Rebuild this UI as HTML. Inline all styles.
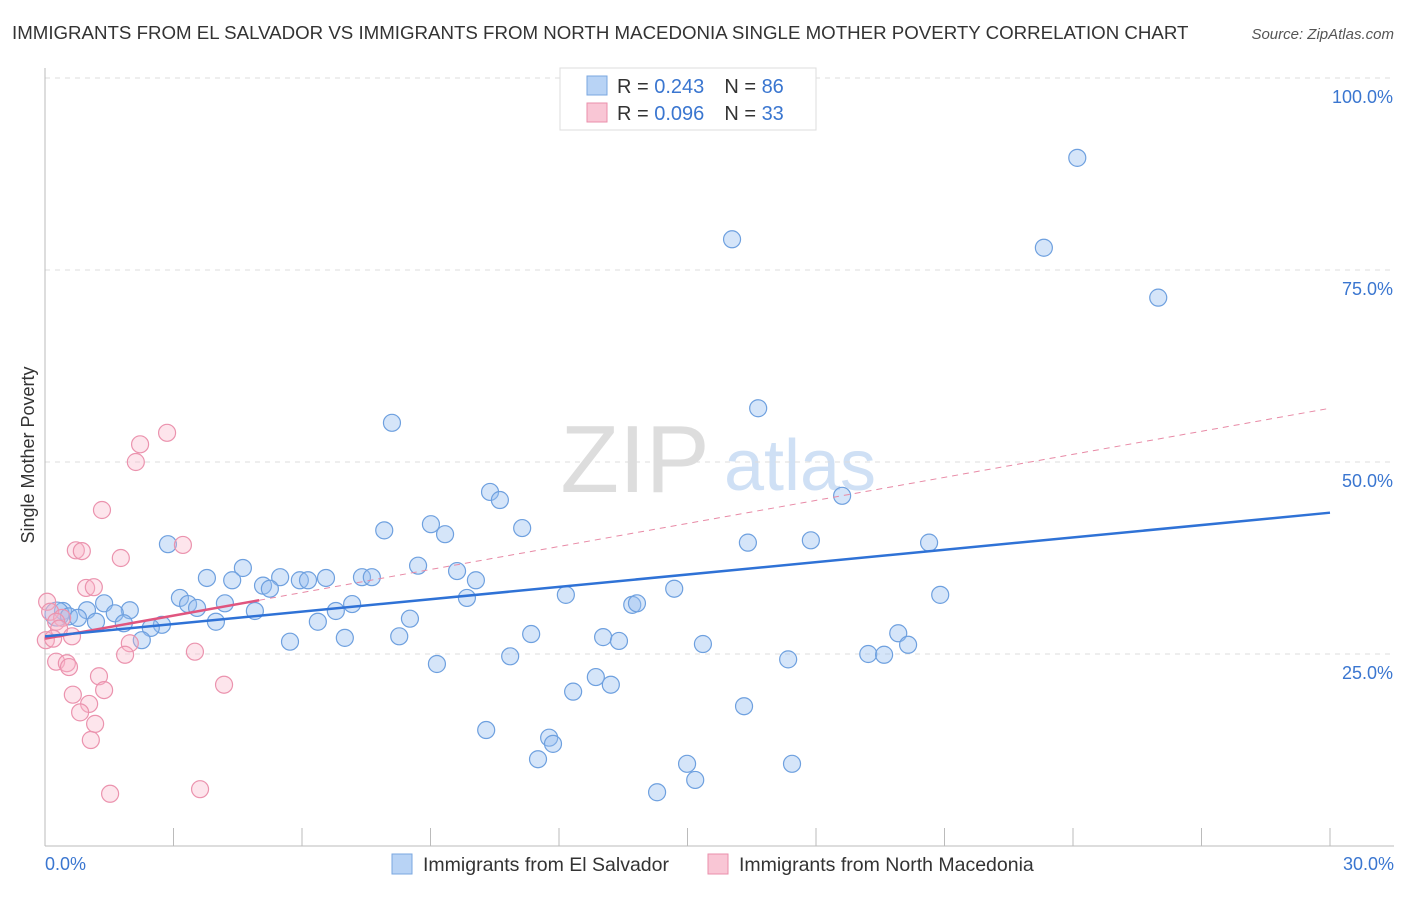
<!DOCTYPE html>
<html><head><meta charset="utf-8"><style>
body{margin:0;background:#fff;font-family:"Liberation Sans",sans-serif}
svg text{font-family:"Liberation Sans",sans-serif}
</style></head><body>
<svg id="chart" width="1406" height="892" xmlns="http://www.w3.org/2000/svg">
<text x="12" y="39" font-size="18.7" fill="#333">IMMIGRANTS FROM EL SALVADOR VS IMMIGRANTS FROM NORTH MACEDONIA SINGLE MOTHER POVERTY CORRELATION CHART</text>
<text x="1394" y="39" font-size="15" fill="#555" font-style="italic" text-anchor="end">Source: ZipAtlas.com</text>
<text x="635" y="492" font-size="96" fill="#ddd" font-family="Liberation Serif" text-anchor="middle">ZIP</text>
<text x="800" y="490" font-size="72" fill="#cfe0f5" text-anchor="middle">atlas</text>
<g id="grid"></g>
<g id="axes"></g>
<g id="marks"></g>
<text transform="translate(34,455) rotate(-90)" font-size="18" fill="#333" text-anchor="middle">Single Mother Poverty</text>
<g>
<rect x="560" y="68" width="256" height="62" fill="#fff" stroke="#ddd"/>
<rect x="587" y="76" width="20" height="19" fill="#b8d3f5" stroke="#7aa7e0"/>
<text x="617" y="93" font-size="20" fill="#333"><tspan>R = </tspan><tspan fill="#3a76d0">0.243</tspan><tspan dx="20">N = </tspan><tspan fill="#3a76d0">86</tspan></text>
<rect x="587" y="103" width="20" height="19" fill="#f9c6d5" stroke="#ea8fab"/>
<text x="617" y="120" font-size="20" fill="#333"><tspan>R = </tspan><tspan fill="#3a76d0">0.096</tspan><tspan dx="20">N = </tspan><tspan fill="#3a76d0">33</tspan></text>
</g>
<g>
<rect x="392" y="854" width="20" height="20" fill="#b8d3f5" stroke="#7aa7e0"/>
<text x="423" y="871" font-size="19.5" fill="#333">Immigrants from El Salvador</text>
<rect x="708" y="854" width="20" height="20" fill="#f9c6d5" stroke="#ea8fab"/>
<text x="739" y="871" font-size="19.5" fill="#333">Immigrants from North Macedonia</text>
</g>
</svg>
<script>
const blueX=[24.1,16.04,23.32,25.99,16.65,8.1,18.61,10.39,10.62,9.01,7.92,9.34,11.14,16.41,17.88,20.64,2.87,8.71,9.62,4.62,3.78,4.37,5.49,5.95,6.14,6.56,5.09,5.25,7.4,7.63,10.06,14.69,20.9,12.16,9.85,3.15,3.34,3.55,4.2,7.17,1.38,1.98,1.63,0.98,0.42,0.28,0.56,0.77,1.19,1.84,2.73,2.47,3.99,4.9,6.79,6.37,8.52,13.71,13.82,2.26,5.72,7,8.27,11.35,13.03,13.4,15.36,19.92,20.15,19.22,19.59,10.86,17.35,9.15,12.86,13.21,12.33,16.32,10.3,11.77,11.86,11.51,14.99,17.44,15.18,14.29];
const blueY=[89.6,79,77.9,71.4,57,55.1,45.6,46.1,45.05,41.9,41.1,40.6,41.4,39.5,39.8,39.5,39.3,36.5,35.8,36.2,34.9,34.6,35,34.6,34.6,34.9,33.9,33.5,35,35,34.6,33.5,32.7,32.7,32.3,32.3,31.5,31,31.6,31.5,31.6,30.7,30.3,30.7,30.6,30.2,29.9,29.7,29.2,29,28.8,28.4,29.2,30.6,30.6,29.2,29.6,31.4,31.6,26.8,26.6,27.1,27.3,27.6,27.2,26.7,26.3,27.7,26.2,25,24.9,24.7,24.3,23.7,22,21,20.1,18.2,15.1,14.1,13.3,11.3,10.7,10.7,8.6,7];
const pinkX=[2.85,2.22,2.12,1.33,0.72,0.86,3.22,1.77,0.96,1.14,0.05,0.12,0.4,0.26,0.33,0.63,0.02,1.98,0.19,3.5,1.87,0.26,0.51,0.56,1.26,4.18,1.38,0.65,1.03,0.82,1.17,1.07,1.52,3.62];
const pinkY=[53.8,52.3,50,43.75,38.5,38.4,39.2,37.5,33.6,33.7,31.8,30.5,29.7,29.2,28.3,27.3,26.8,26.4,27,25.3,24.9,24,23.8,23.3,22.1,21,20.3,19.7,18.5,17.4,15.9,13.8,6.8,7.4];
const yTicks=[25,50,75,100];
const xTickLabels=["0.0%","30.0%"];
const trendBlue=[27.3,43.4];
const trendPink=[27.0,57.0];

const X=v=>45+v*1285/30, Y=v=>846-v*7.68;
const NS="http://www.w3.org/2000/svg";
function mk(t,a,p){const e=document.createElementNS(NS,t);for(const k in a)e.setAttribute(k,a[k]);p.appendChild(e);return e;}
const grid=document.getElementById('grid'),axes=document.getElementById('axes'),marks=document.getElementById('marks');
yTicks.forEach(t=>{
  const g=mk('line',{x1:45,x2:1394,y1:Y(t),y2:Y(t),stroke:'#ddd','stroke-dasharray':'5,5'},grid);
  
  
  const l=mk('text',{x:1393,y:Y(t)+25,'font-size':18,fill:'#3a76d0','text-anchor':'end'},axes);
  l.textContent=t.toFixed(1)+'%';
  
  
});
const ya=mk('line',{x1:45,x2:45,y1:68,y2:846,stroke:'#bbb'},axes);


const xa=mk('line',{x1:45,x2:1394,y1:846,y2:846,stroke:'#bbb'},axes);


for(let i=1;i<=10;i++){const t=mk('line',{x1:X(i*3),x2:X(i*3),y1:828,y2:846,stroke:'#bbb'},axes);
  
  }
[[0,'start',45],[30,'end',1394]].forEach((d,i)=>{const l=mk('text',{x:d[2],y:870,'font-size':18,fill:'#3a76d0','text-anchor':d[1]},axes);l.textContent=xTickLabels[i];
  
  });
blueX.forEach((x,i)=>{const c=mk('circle',{cx:X(x),cy:Y(blueY[i]),r:(i==45?12:8.5),fill:'rgba(150,190,240,0.4)',stroke:'#6ea0df','stroke-width':1.2},marks);
  
  });
pinkX.forEach((x,i)=>{const c=mk('circle',{cx:X(x),cy:Y(pinkY[i]),r:8.5,fill:'rgba(248,180,200,0.35)',stroke:'#eb93ae','stroke-width':1.2},marks);
  
  });
const pk=x=>trendPink[0]+(trendPink[1]-trendPink[0])*x/30;
const pd=mk('line',{x1:X(5),y1:Y(pk(5)),x2:X(30),y2:Y(pk(30)),stroke:'#e88aa6','stroke-dasharray':'6,5','stroke-width':1},marks);


const ps=mk('line',{x1:X(0),y1:Y(pk(0)),x2:X(5),y2:Y(pk(5)),stroke:'#e0557f','stroke-width':2.5},marks);


const bl=mk('line',{x1:X(0),y1:Y(trendBlue[0]),x2:X(30),y2:Y(trendBlue[1]),stroke:'#2f72d6','stroke-width':2.5},marks);


</script>
</body></html>
